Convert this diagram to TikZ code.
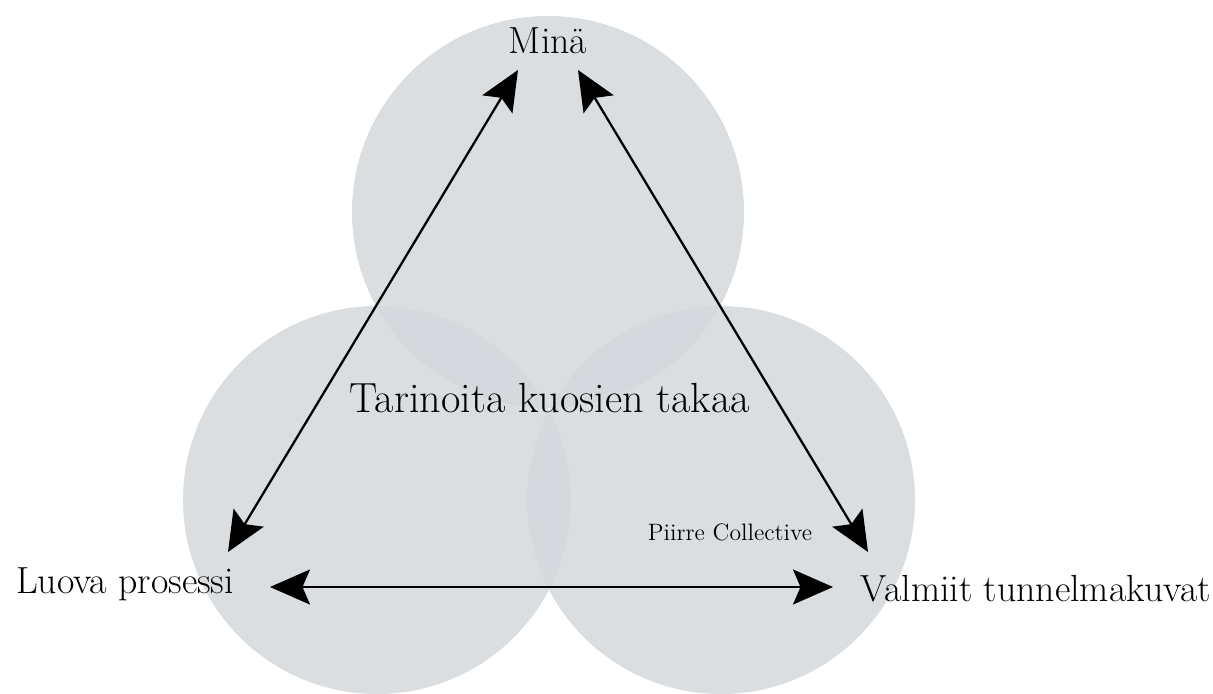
\documentclass[tikz,border=0pt]{standalone}
\usepackage{fontspec}
\usepackage{tikz}
\usetikzlibrary{arrows.meta}
\definecolor{circgray}{RGB}{212,216,220}

\begin{document}
\begin{tikzpicture}[x=0.02cm, y=-0.02cm]
\useasboundingbox (0,0) rectangle (1213,693);
%\tikzstyle{blob}=[fill=circgray,fill opacity=0.85]
\begin{scope}[fill=circgray, fill opacity=0.85]
    \fill (548,212) circle (196);
    \fill (377,500) circle (194);
    \fill (721,500) circle (194);
\end{scope}

\begin{scope}[every node/.style={anchor=base, inner sep=0pt, font=\fontsize{21.5}{26}\selectfont}]
    \node (M) at (548,53) {Minä};
    \node (L) at (125,593) {Luova prosessi};
    \node (V) at (1036,601) {Valmiit tunnelmakuvat};
    \node[font=\fontsize{24}{28}\selectfont] (T) at (550,412) {Tarinoita kuosien takaa};
    \node[font=\fontsize{13.5}{16}\selectfont] (P) at (730,540) {Piirre Collective};
\end{scope}

\coordinate (M1) at (518,70);
\coordinate (M2) at (578,70);
\coordinate (L1) at (228,552);
\coordinate (L2) at (270,587);
\coordinate (V1) at (868,552);
\coordinate (V2) at (833,587);

\begin{scope}[line width=1.3pt, >={Stealth[length=8mm, width=7mm, inset=1.5mm]}]
    \path [<->] (M1) edge (L1);
    \path [<->] (M2) edge (V1);
    \path [<->] (L2) edge (V2);
\end{scope}
\end{tikzpicture}
\end{document}
